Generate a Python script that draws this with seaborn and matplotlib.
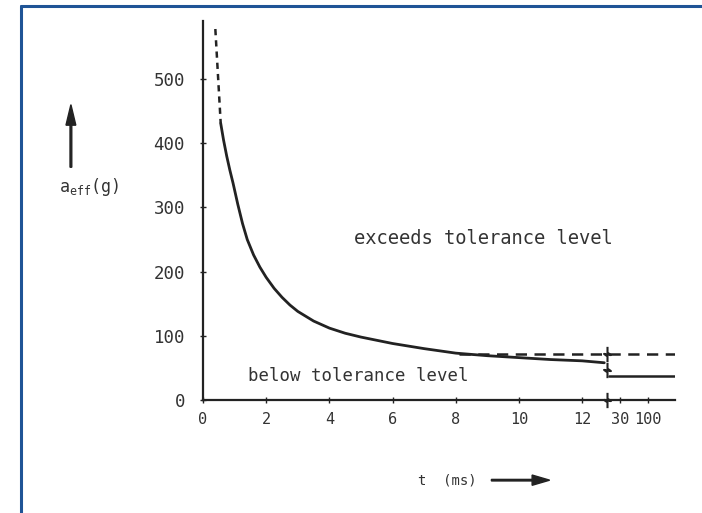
import numpy as np
import pandas as pd
import matplotlib
matplotlib.use("Agg")
import matplotlib.pyplot as plt
import seaborn as sns
from matplotlib.lines import Line2D
from matplotlib.path import Path

# ---------------- data ----------------
curve_t = [0.56, 0.65, 0.75, 0.85, 0.95, 1.1, 1.25, 1.4, 1.6, 1.8, 2.0, 2.25, 2.5, 2.75,
           3.0, 3.5, 4.0, 4.5, 5.0, 5.5, 6.0, 7.0, 8.0, 9.0, 10.0, 11.0, 12.0, 12.7]
curve_a = [431, 405, 380, 358, 338, 305, 275, 250, 226, 207, 191, 174, 160, 148,
           138, 123, 112, 104, 98, 93, 88, 80, 73, 69, 66, 63, 61, 58]
extrap_t = [0.39, 0.56]
extrap_a = [578, 431]
upper_t = [8.1, 400]
upper_a = [72, 72]
long_t = [15, 400]
long_a = [38, 38]
break_t = 12.8
break_a = [0, 72, 47]
x_ticks = [0, 2, 4, 6, 8, 10, 12, 30, 100]
x_labels = ["0", "2", "4", "6", "8", "10", "12", "30", "100"]
y_ticks = [0, 100, 200, 300, 400, 500]
y_labels = ["0", "100", "200", "300", "400", "500"]

# broken time axis: linear up to the break, compressed beyond it
knot_t = np.array([12.8, 30.0, 100.0, 400.0])
knot_p = np.array([12.8, 13.2, 14.08, 14.94])


def fwd(t):
    t = np.asarray(t, dtype=float)
    return np.where(t <= 12.8, t, np.interp(t, knot_t, knot_p))


def inv(p):
    p = np.asarray(p, dtype=float)
    return np.where(p <= 12.8, p, np.interp(p, knot_p, knot_t))


sns.set_theme(style="white")
plt.rcParams["font.family"] = ["DejaVu Sans Mono", "DejaVu Sans"]
plt.rcParams["mathtext.fontset"] = "custom"
plt.rcParams["mathtext.rm"] = "DejaVu Sans Mono"
plt.rcParams["mathtext.it"] = "DejaVu Sans Mono"

ink = "#222222"
fig = plt.figure(figsize=(7.02, 5.13), dpi=100)
ax = fig.add_axes([0.2892, 0.2203, 0.6724, 0.7394])
ax.set_xscale("function", functions=(fwd, inv))

sns.lineplot(x=curve_t, y=curve_a, ax=ax, color=ink, lw=2.0, sort=False, estimator=None)
sns.lineplot(x=extrap_t, y=extrap_a, ax=ax, color=ink, lw=1.8, sort=False, estimator=None,
             linestyle=(0, (2.5, 2.0)))
sns.lineplot(x=upper_t, y=upper_a, ax=ax, color=ink, lw=1.8, sort=False, estimator=None,
             linestyle=(0, (4.5, 3.0)))
sns.lineplot(x=long_t, y=long_a, ax=ax, color=ink, lw=1.8, sort=False, estimator=None)

# zig-zag break symbol
zz = Path([(0, -1), (0, -0.25), (-0.45, 0.08), (0.45, -0.08), (0, 0.25), (0, 1)])
ax.plot([break_t] * len(break_a), break_a, linestyle="none", marker=zz,
        markersize=11, markerfacecolor="none", markeredgecolor=ink, markeredgewidth=1.5,
        clip_on=False)

ax.set_xlim(0, 400)
ax.set_ylim(0, 591)
ax.set_xticks(x_ticks)
ax.set_xticklabels(x_labels)
ax.set_yticks(y_ticks)
ax.set_yticklabels(y_labels)
ax.minorticks_off()
ax.tick_params(axis="x", direction="inout", length=4, width=1, color=ink,
               labelsize=11, labelcolor="#333333", pad=7, bottom=True)
ax.tick_params(axis="y", direction="inout", length=4, width=1, color=ink,
               labelsize=12.5, labelcolor="#333333", pad=11, left=True)
for s in ("top", "right"):
    ax.spines[s].set_visible(False)
for s in ("left", "bottom"):
    ax.spines[s].set_color(ink)
    ax.spines[s].set_linewidth(1.6)
ax.set_xlabel("")
ax.set_ylabel("")
ax.grid(False)

ax.text(0.595, 0.4245, "exceeds tolerance level", transform=ax.transAxes,
        ha="center", va="center", fontsize=13.5, color="#333333")
ax.text(0.328, 0.063, "below tolerance level", transform=ax.transAxes,
        ha="center", va="center", fontsize=12.5, color="#333333")

# axis titles with arrows
fig.text(0.127, 0.635, r"$\mathrm{a_{eff}}$(g)", ha="center", va="center",
         fontsize=12, color="#333333")
fig.patches.append(matplotlib.patches.FancyArrow(
    0.101, 0.674, 0, 0.122, width=0.0025, head_width=0.014, head_length=0.04,
    length_includes_head=True, color=ink, transform=fig.transFigure))
fig.text(0.637, 0.064, "t  (ms)", ha="center", va="center", fontsize=10,
         color="#333333")
fig.patches.append(matplotlib.patches.FancyArrow(
    0.700, 0.064, 0.083, 0, width=0.003, head_width=0.02, head_length=0.025,
    length_includes_head=True, color=ink, transform=fig.transFigure))

# blue frame of the scanned figure (top and left edges)
fig.add_artist(Line2D([21 / 702, 21 / 702], [0, 1 - 6 / 513], transform=fig.transFigure,
                      color="#1f5496", lw=2.2))
fig.add_artist(Line2D([21 / 702, 1], [1 - 6 / 513, 1 - 6 / 513], transform=fig.transFigure,
                      color="#1f5496", lw=2.2))

fig.savefig("out.png", dpi=100, facecolor="white")
